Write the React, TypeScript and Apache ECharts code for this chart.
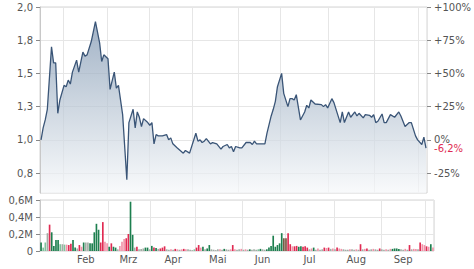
import React, { useEffect, useRef } from "react";
import * as echarts from "echarts";

// ---------- data ----------
const startDate = "2024-01-17";
const endDate = "2024-10-04";
const holidays = ["2024-03-29", "2024-04-01", "2024-05-01"];

const monthNames = ["Jan", "Feb", "Mrz", "Apr", "Mai", "Jun", "Jul", "Aug", "Sep", "Okt", "Nov", "Dez"];

const priceTicks = [0.75, 1.0, 1.25, 1.5, 1.75, 2.0];
const pctTicks = [-25, 0, 25, 50, 75, 100];
const volumeTicks = [0, 0.2, 0.4, 0.6];

const priceDates = [
  "2024-01-17", "2024-01-18", "2024-01-19", "2024-01-22", "2024-01-24", "2024-01-25", "2024-01-26", "2024-01-29", "2024-01-30",
  "2024-02-01", "2024-02-02", "2024-02-05", "2024-02-06", "2024-02-07", "2024-02-09", "2024-02-12", "2024-02-14", "2024-02-15", "2024-02-16", "2024-02-20", "2024-02-22", "2024-02-26", "2024-02-27", "2024-02-28",
  "2024-03-01", "2024-03-04", "2024-03-06", "2024-03-07", "2024-03-08", "2024-03-12", "2024-03-14", "2024-03-15", "2024-03-19", "2024-03-20", "2024-03-21", "2024-03-22", "2024-03-25", "2024-03-26", "2024-03-28",
  "2024-04-02", "2024-04-03", "2024-04-04", "2024-04-05", "2024-04-08", "2024-04-10", "2024-04-12", "2024-04-15", "2024-04-16", "2024-04-17", "2024-04-19", "2024-04-24", "2024-04-25", "2024-04-29",
  "2024-05-03", "2024-05-06", "2024-05-07", "2024-05-08", "2024-05-09", "2024-05-10", "2024-05-14", "2024-05-15", "2024-05-17", "2024-05-21", "2024-05-22", "2024-05-24", "2024-05-27", "2024-05-28", "2024-05-29", "2024-05-30",
  "2024-06-03", "2024-06-04", "2024-06-06", "2024-06-07", "2024-06-10", "2024-06-11", "2024-06-12", "2024-06-13", "2024-06-19", "2024-06-20", "2024-06-24", "2024-06-25", "2024-06-26", "2024-06-27",
  "2024-07-01", "2024-07-02", "2024-07-04", "2024-07-05", "2024-07-08", "2024-07-09", "2024-07-10", "2024-07-12", "2024-07-16", "2024-07-17", "2024-07-18", "2024-07-19", "2024-07-23", "2024-07-26", "2024-07-29", "2024-07-30", "2024-07-31",
  "2024-08-02", "2024-08-05", "2024-08-08", "2024-08-09", "2024-08-12", "2024-08-14", "2024-08-15", "2024-08-19", "2024-08-20", "2024-08-21", "2024-08-23", "2024-08-26", "2024-08-28", "2024-08-29", "2024-08-30",
  "2024-09-02", "2024-09-03", "2024-09-05", "2024-09-06", "2024-09-09", "2024-09-11", "2024-09-13", "2024-09-17", "2024-09-18", "2024-09-20", "2024-09-24", "2024-09-25", "2024-09-27", "2024-09-30",
  "2024-10-02", "2024-10-03", "2024-10-04",
];

const priceValues = [
  1.0, 1.09, 1.15, 1.23, 1.7, 1.58, 1.58, 1.2, 1.3,
  1.41, 1.4, 1.45, 1.42, 1.51, 1.6, 1.51, 1.66, 1.63, 1.64, 1.74, 1.89, 1.73, 1.59, 1.64,
  1.61, 1.38, 1.51, 1.39, 1.41, 1.19, 0.7, 1.13, 1.23, 1.09, 1.21, 1.17, 1.1, 1.16, 1.13,
  1.11, 1.13, 0.97, 1.04, 1.03, 1.03, 1.04, 1.0, 1.015, 0.97, 0.94, 0.9, 0.92, 0.9,
  1.05, 0.99, 1.0, 0.98, 0.99, 1.01, 0.97, 0.98, 0.97, 0.93, 0.95, 0.965, 0.94, 0.95, 0.91, 0.95,
  0.94, 0.94, 0.98, 0.98, 0.98, 0.965, 0.99, 0.97, 0.97, 1.05, 1.18, 1.23, 1.29, 1.4,
  1.5, 1.35, 1.25, 1.31, 1.31, 1.3, 1.34, 1.15, 1.21, 1.26, 1.24, 1.3, 1.27, 1.265, 1.25, 1.265, 1.24,
  1.31, 1.28, 1.13, 1.21, 1.13, 1.21, 1.17, 1.21, 1.18, 1.2, 1.165, 1.19, 1.185, 1.17, 1.19,
  1.13, 1.14, 1.195, 1.13, 1.13, 1.19, 1.17, 1.21, 1.18, 1.1, 1.13, 1.13, 1.03, 1.0,
  0.965, 1.02, 0.938,
];

// volume per trading day, in millions
const volumeValues = [
  0.1, 0.04, 0.1, 0.21, 0.31, 0.22, 0.06, 0.13, 0.13, 0.08,
  0.08, 0.075, 0.075, 0.07, 0.085, 0.13, 0.04, 0.03, 0.07, 0.05,
  0.1, 0.1, 0.1, 0.09, 0.09, 0.22, 0.32, 0.25, 0.1, 0.34,
  0.11, 0.09, 0.05, 0.09, 0.05, 0.04, 0.02, 0.06, 0.11, 0.14,
  0.15, 0.2, 0.58, 0.19, 0.04, 0.05, 0.02, 0.025, 0.03, 0.04,
  0.04, 0.02, 0.06, 0.04, 0.035, 0.025, 0.03, 0.04, 0.055, 0.02,
  0.015, 0.02, 0.015, 0.025, 0.02, 0.015, 0.02, 0.025, 0.02, 0.02,
  0.015, 0.01, 0.02, 0.04, 0.07, 0.04, 0.05, 0.02, 0.03, 0.07,
  0.02, 0.015, 0.01, 0.02, 0.02, 0.015, 0.025, 0.02, 0.015, 0.02,
  0.07, 0.02, 0.015, 0.02, 0.025, 0.015, 0.02, 0.015, 0.02, 0.015,
  0.02, 0.015, 0.02, 0.025, 0.02, 0.015, 0.02, 0.04, 0.06, 0.18,
  0.05, 0.07, 0.09, 0.21, 0.15, 0.15, 0.21, 0.08, 0.055, 0.055,
  0.06, 0.05, 0.055, 0.05, 0.055, 0.04, 0.02, 0.03, 0.04, 0.015,
  0.03, 0.015, 0.02, 0.04, 0.035, 0.04, 0.025, 0.03, 0.02, 0.04,
  0.03, 0.025, 0.02, 0.015, 0.015, 0.02, 0.02, 0.015, 0.02, 0.015,
  0.08, 0.02, 0.025, 0.03, 0.015, 0.02, 0.025, 0.02, 0.015, 0.03,
  0.02, 0.015, 0.02, 0.015, 0.025, 0.025, 0.03, 0.03, 0.025, 0.02,
  0.015, 0.025, 0.015, 0.07, 0.02, 0.025, 0.025, 0.02, 0.1, 0.08,
  0.07, 0.055, 0.05, 0.08, 0.04,
];

// G dark green, g light green, R red, r pink, n grey, b brown
const volumeTones = [
  "G", "g", "g", "n", "R", "G", "G", "G", "G", "g",
  "n", "g", "r", "R", "R", "G", "G", "n", "R", "r",
  "G", "n", "n", "G", "G", "G", "G", "G", "R", "R",
  "r", "r", "G", "R", "G", "G", "n", "r", "r", "r",
  "R", "R", "G", "G", "n", "R", "n", "n", "n", "G",
  "G", "n", "G", "R", "G", "n", "R", "R", "R", "n",
  "n", "r", "n", "R", "r", "n", "r", "R", "r", "n",
  "n", "n", "g", "R", "R", "r", "G", "n", "G", "G",
  "n", "n", "n", "n", "r", "n", "G", "n", "n", "r",
  "R", "r", "n", "n", "r", "n", "r", "n", "G", "n",
  "n", "n", "g", "G", "n", "n", "G", "G", "G", "G",
  "G", "G", "G", "G", "b", "b", "R", "R", "r", "R",
  "R", "G", "G", "R", "R", "R", "n", "r", "G", "n",
  "r", "n", "n", "R", "r", "R", "n", "r", "n", "R",
  "r", "r", "n", "n", "n", "r", "n", "n", "r", "n",
  "R", "n", "r", "R", "n", "n", "r", "n", "n", "R",
  "n", "n", "r", "n", "r", "G", "G", "G", "G", "n",
  "n", "r", "n", "R", "n", "r", "r", "n", "R", "r",
  "r", "R", "r", "G", "r",
];

// ---------- helpers ----------
const toneColors: Record<string, string> = {
  G: "#1d7f4f",
  g: "#7fc39c",
  R: "#e02a52",
  r: "#f292a8",
  n: "#a3ada5",
  b: "#7a5642",
};

function tradingDays(start: string, end: string, skip: string[]) {
  const out: string[] = [];
  const d = new Date(start + "T00:00:00Z");
  const e = new Date(end + "T00:00:00Z");
  while (d <= e) {
    const wd = d.getUTCDay();
    const s = d.toISOString().slice(0, 10);
    if (wd !== 0 && wd !== 6 && skip.indexOf(s) < 0) out.push(s);
    d.setUTCDate(d.getUTCDate() + 1);
  }
  return out;
}

const FONT = "DejaVu Sans";
const LABEL_COLOR = "#555";
const GRID_LINE = "#e6e6e6";
const BORDER = "#d4d4d4";

export default function App() {
  const ref = useRef<HTMLDivElement>(null);

  useEffect(() => {
    document.body.style.margin = "0";
    if (!ref.current) return;
    const chart = echarts.init(ref.current, undefined, { renderer: "svg" });

    const days = tradingDays(startDate, endDate, holidays);
    const monthOf = (s: string) => parseInt(s.slice(5, 7), 10);
    const monthStarts = new Set<number>();
    for (let i = 1; i < days.length; i++) {
      if (monthOf(days[i]) !== monthOf(days[i - 1])) monthStarts.add(i);
    }
    const starts = Array.from(monthStarts).sort((a, b) => a - b);
    const midIdx = new Set<number>();
    for (let k = 0; k + 1 < starts.length; k++) {
      midIdx.add(Math.floor((starts[k] + starts[k + 1] - 1) / 2));
    }

    const base = priceValues[0];
    const yMin = 0.6;
    const yMax = 2.0;
    const pctMin = (yMin / base - 1) * 100;
    const pctMax = (yMax / base - 1) * 100;
    const lastPct = (priceValues[priceValues.length - 1] / base - 1) * 100;

    const fmtPct = (v: number) => {
      const r = Math.round(v * 10) / 10;
      const s = (Number.isInteger(r) ? String(r) : r.toFixed(1)).replace(".", ",");
      return (r > 0 ? "+" : "") + s + "%";
    };

    const textBase = { fontFamily: FONT, fontSize: 10, color: LABEL_COLOR };

    const option: any = {
      animation: false,
      backgroundColor: "#fff",
      grid: [
        { left: 40, right: 40, top: 7, height: 186, show: true, borderColor: BORDER, borderWidth: 1, backgroundColor: "transparent" },
        { left: 40, right: 40, top: 200, height: 51, show: true, borderColor: BORDER, borderWidth: 1, backgroundColor: "transparent" },
      ],
      xAxis: [
        {
          type: "category",
          gridIndex: 0,
          data: days,
          boundaryGap: true,
          axisLine: { show: false },
          axisTick: { show: false },
          axisLabel: { show: false },
          splitLine: { show: true, interval: (i: number) => monthStarts.has(i), lineStyle: { color: GRID_LINE, width: 1 } },
        },
        {
          type: "category",
          gridIndex: 1,
          data: days,
          boundaryGap: true,
          axisLine: { show: false },
          axisTick: { show: false },
          axisLabel: {
            ...textBase,
            margin: 3,
            interval: (i: number) => midIdx.has(i),
            formatter: (v: string) => monthNames[monthOf(v) - 1],
          },
          splitLine: { show: true, interval: (i: number) => monthStarts.has(i), lineStyle: { color: GRID_LINE, width: 1 } },
        },
      ],
      yAxis: [
        {
          type: "value",
          gridIndex: 0,
          position: "left",
          min: yMin,
          max: yMax,
          axisLine: { show: true, lineStyle: { color: "#c8c8c8" } },
          axisTick: { show: true, length: 4, customValues: priceTicks, lineStyle: { color: "#888" } },
          axisLabel: {
            ...textBase,
            margin: 7,
            customValues: priceTicks,
            formatter: (v: number) => v.toFixed(1).replace(".", ","),
          },
          splitLine: { show: true, lineStyle: { color: GRID_LINE } },
        },
        {
          type: "value",
          gridIndex: 0,
          position: "right",
          min: pctMin,
          max: pctMax,
          axisLine: { show: false },
          axisTick: { show: true, length: 4, customValues: pctTicks, lineStyle: { color: "#888" } },
          axisLabel: {
            ...textBase,
            margin: 7,
            lineHeight: 8,
            customValues: [...pctTicks, lastPct],
            formatter: (v: number) => (Math.abs(v - lastPct) < 1e-9 ? `{neg|${fmtPct(v)}}` : fmtPct(v)),
            rich: { neg: { fontFamily: FONT, fontSize: 10, lineHeight: 8, color: "#e02a52", padding: [1, 0, 0, 0] } },
          },
          splitLine: { show: false },
        },
        {
          type: "value",
          gridIndex: 1,
          position: "left",
          min: 0,
          max: 0.6,
          interval: 0.2,
          axisLine: { show: true, lineStyle: { color: "#c8c8c8" } },
          axisTick: { show: true, length: 4, customValues: volumeTicks, lineStyle: { color: "#888" } },
          axisLabel: {
            ...textBase,
            margin: 7,
            customValues: volumeTicks,
            formatter: (v: number) => (v === 0 ? "0" : v.toFixed(1).replace(".", ",") + "M"),
          },
          splitLine: { show: true, lineStyle: { color: GRID_LINE } },
        },
      ],
      series: [
        {
          type: "line",
          xAxisIndex: 0,
          yAxisIndex: 0,
          data: priceDates.map((d, i) => [d, priceValues[i]]),
          showSymbol: false,
          symbol: "none",
          lineStyle: { color: "#3a5577", width: 1.3 },
          areaStyle: {
            color: new echarts.graphic.LinearGradient(0, 0, 0, 1, [
              { offset: 0, color: "#7a92ae" },
              { offset: 0.45, color: "#b4c2d1" },
              { offset: 1, color: "#f6f8fa" },
            ]),
          },
          z: 3,
        },
        {
          type: "bar",
          xAxisIndex: 1,
          yAxisIndex: 2,
          barWidth: "78%",
          data: volumeValues.map((v, i) => ({ value: v, itemStyle: { color: toneColors[volumeTones[i]] } })),
        },
      ],
    };

    chart.setOption(option);
    return () => chart.dispose();
  }, []);

  return <div ref={ref} style={{ width: 474, height: 269 }} />;
}
